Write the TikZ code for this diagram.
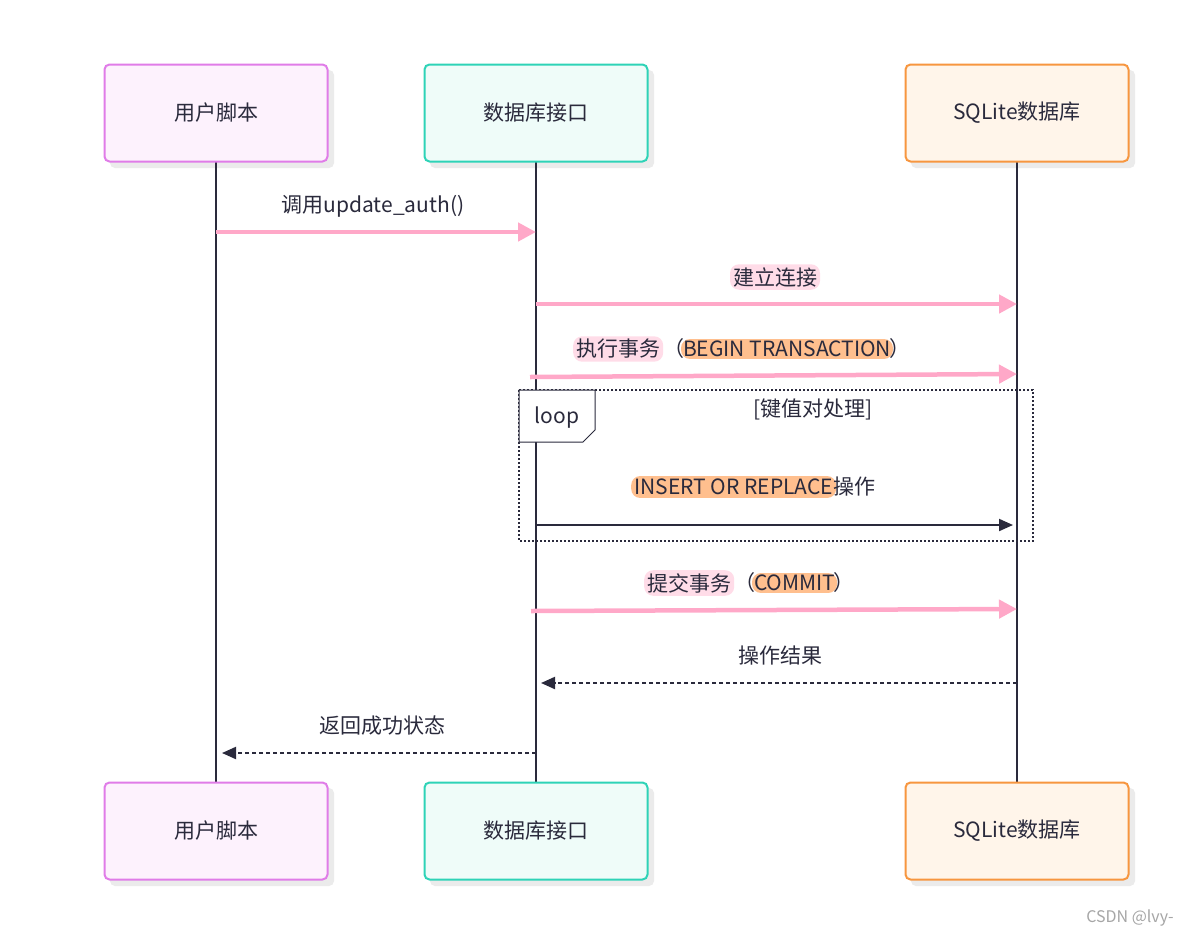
\documentclass[tikz,border=0pt]{standalone}
\usepackage{fontspec}
\setmainfont{Noto Sans CJK SC}
\usetikzlibrary{arrows.meta,shapes.misc}
\definecolor{pk}{HTML}{FFA8C8}
\definecolor{pkbg}{HTML}{FFDCE8}
\definecolor{orbg}{HTML}{FFBF8E}
\definecolor{ink}{HTML}{2A2A3C}
\definecolor{ubd}{HTML}{E07CE8}
\definecolor{ubg}{HTML}{FDF2FD}
\definecolor{ibd}{HTML}{2ED3B7}
\definecolor{ibg}{HTML}{EFFCF9}
\definecolor{sbd}{HTML}{F7963F}
\definecolor{sbg}{HTML}{FFF5EA}
\tikzset{
 actor/.style 2 args={draw=#1,fill=#2,line width=2pt,rounded corners=5pt,minimum width=223pt,minimum height=97pt,font=\fontsize{21}{24}\selectfont,text=ink},
 life/.style={draw=ink,line width=2pt},
 msg/.style={draw=pk,line width=4.5pt,-{Triangle[length=18pt,width=18pt]}},
 blk/.style={draw=ink,line width=2pt,-{Triangle[length=14pt,width=12pt]}},
 rep/.style={draw=ink,line width=2pt,dash pattern=on 4pt off 3pt,-{Triangle[length=14pt,width=12pt]}},
 lbl/.style={font=\fontsize{21}{24}\selectfont,text=ink,inner sep=1pt},
 hp/.style={fill=pkbg,rounded corners=9pt,inner sep=3pt},
 ho/.style={fill=orbg,rounded corners=9pt,inner sep=3pt},
}
\begin{document}
\begin{tikzpicture}[x=1pt,y=-1pt]
\useasboundingbox (0,0) rectangle (1202,943);
\fill[white] (0,0) rectangle (1202,943);
\foreach \x/\y in {216/113,536/113,1017/113,216/831,536/831,1017/831}
  \fill[black!8,rounded corners=5pt] (\x-106,\y-43) rectangle (\x+118,\y+55);
\coordinate (u1) at (216,162); \coordinate (u2) at (216,783);
\coordinate (i1) at (536,162); \coordinate (i2) at (536,783);
\coordinate (s1) at (1017,162); \coordinate (s2) at (1017,783);
\draw[life] (u1)--(u2); \draw[life] (i1)--(i2); \draw[life] (s1)--(s2);
\node[actor={ubd}{ubg}] (ut) at (216,113) {用户脚本};
\node[actor={ibd}{ibg}] (it) at (536,113) {数据库接口};
\node[actor={sbd}{sbg}] (st) at (1017,113) {SQLite数据库};
\node[actor={ubd}{ubg}] (ub) at (216,831) {用户脚本};
\node[actor={ibd}{ibg}] (ib) at (536,831) {数据库接口};
\node[actor={sbd}{sbg}] (sb) at (1017,831) {SQLite数据库};
\coordinate (a1) at (216,232); \coordinate (b1) at (536,232);
\draw[msg] (a1)--(b1);
\node[lbl] (t1) at (373,206) {调用update\_auth()};
\coordinate (a2) at (536,304); \coordinate (b2) at (1017,304);
\draw[msg] (a2)--(b2);
\node[lbl,hp] (t2) at (775,277) {建立连接};
\coordinate (a3) at (530,377); \coordinate (b3) at (1017,374);
\draw[msg] (a3)--(b3);
\node[lbl,hp,anchor=west] (t3a) at (573,349) {执行事务};
\node[lbl,anchor=west,inner sep=0pt] (t3p) at (t3a.east) {（};
\node[lbl,ho,anchor=west,inner sep=2pt] (t3b) at ([xshift=-4pt]t3p.east) {BEGIN TRANSACTION};
\node[lbl,anchor=west,inner sep=0pt] (t3c) at ([xshift=-4pt]t3b.east) {）};
\draw[ink,line width=1.5pt,dash pattern=on 2pt off 2pt] (519,390) rectangle (1033,541);
\draw[ink,line width=1pt,fill=white] (519,390) -- (595,390) -- (595,430) -- (583,442) -- (519,442) -- cycle;
\node[lbl] (lp) at (557,418) {loop};
\node[lbl] (lc) at (813,409) {[键值对处理]};
\coordinate (a4) at (536,525); \coordinate (b4) at (1013,525);
\draw[blk] (a4)--(b4);
\node[lbl,ho,anchor=west] (t4a) at (631,487) {INSERT OR REPLACE};
\node[lbl,anchor=west,inner sep=0pt] (t4b) at ([xshift=-3pt]t4a.east) {操作};
\coordinate (a5) at (531,611); \coordinate (b5) at (1017,609);
\draw[msg] (a5)--(b5);
\node[lbl,hp,anchor=west] (t5a) at (644,583) {提交事务};
\node[lbl,anchor=west,inner sep=0pt] (t5p) at (t5a.east) {（};
\node[lbl,ho,anchor=west,inner sep=2pt] (t5b) at ([xshift=-4pt]t5p.east) {COMMIT};
\node[lbl,anchor=west,inner sep=0pt] (t5c) at ([xshift=-4pt]t5b.east) {）};
\coordinate (a6) at (1017,683); \coordinate (b6) at (541,683);
\draw[rep] (a6)--(b6);
\node[lbl] (t6) at (780,656) {操作结果};
\coordinate (a7) at (536,753); \coordinate (b7) at (222,753);
\draw[rep] (a7)--(b7);
\node[lbl] (t7) at (382,726) {返回成功状态};
\node[font=\fontsize{16}{18}\selectfont,text=black!35] (wm) at (1130,918) {CSDN @lvy-};
\end{tikzpicture}
\end{document}
